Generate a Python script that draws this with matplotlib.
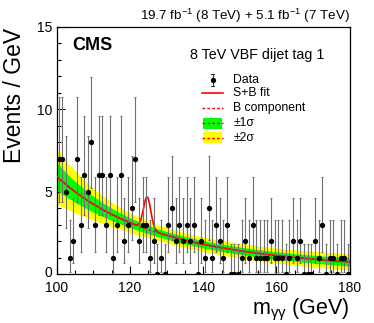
import math
import numpy as np
import matplotlib
matplotlib.use("Agg")
import matplotlib.pyplot as plt
from matplotlib.patches import Rectangle
from matplotlib.ticker import MultipleLocator
from matplotlib.transforms import ScaledTranslation

plt.rcParams['font.family'] = ['Liberation Sans', 'DejaVu Sans']
plt.rcParams['mathtext.fontset'] = 'custom'
plt.rcParams['mathtext.rm'] = 'Liberation Sans'
plt.rcParams['mathtext.it'] = 'Liberation Sans:italic'

# ---- data (1 GeV bins, 100-180 GeV) ----
bin_low_edge = 100.0
bin_width = 1.0
counts = [7, 7, 5, 1, 2, 7, 3, 6, 5, 8, 3, 6, 6, 3, 6, 1,
          3, 6, 2, 3, 4, 7, 2, 3, 3, 1, 2, 0, 1, 0, 3, 4,
          2, 3, 2, 3, 2, 3, 0, 2, 1, 4, 1, 3, 2, 1, 3, 0,
          0, 0, 1, 2, 1, 3, 1, 1, 1, 1, 2, 1, 1, 1, 0, 1,
          2, 1, 2, 0, 0, 0, 2, 1, 3, 0, 1, 1, 0, 1, 1, 0]

# ---- fit model parameters ----
bkg_norm = 5.95        # B at 100 GeV
bkg_power = 3.5        # power-law slope
sig_mass = 124.7
sig_sigma = 1.0
sig_amp = 1.95
band1_min = 0.22       # 1 sigma half-width near 140 GeV
band1_low = 0.62       # extra width towards 100 GeV
band1_high = 0.03      # extra width towards 180 GeV
band_pivot = 140.0

x_ticks = [100, 120, 140, 160, 180]
y_ticks = [0, 5, 10, 15]


def pois_cdf(n, mu):
    s, term = 0.0, math.exp(-mu)
    for k in range(n + 1):
        if k > 0:
            term *= mu / k
        s += term
    return s


def solve(f, target, lo, hi):
    for _ in range(80):
        mid = 0.5 * (lo + hi)
        if f(mid) > target:
            lo = mid
        else:
            hi = mid
    return 0.5 * (lo + hi)


a2 = 0.158655
n_arr = np.array(counts)
centers = bin_low_edge + bin_width * (np.arange(len(counts)) + 0.5)
err_lo, err_hi = [], []
for n in counts:
    up = solve(lambda m: pois_cdf(n, m), a2, 0.0, 40.0)
    if n > 0:
        low = solve(lambda m: pois_cdf(n - 1, m), 1 - a2, 0.0, 40.0)
    else:
        low = 0.0
    err_lo.append(n - low)
    err_hi.append(up - n)

mm = np.linspace(100, 180, 801)
bkg = bkg_norm * (mm / 100.0) ** (-bkg_power)
sig = sig_amp * np.exp(-0.5 * ((mm - sig_mass) / sig_sigma) ** 2)
t = (mm - band_pivot) / 40.0
band1 = np.where(t < 0, band1_min + band1_low * (-t) ** 3, band1_min + band1_high * t ** 2)
band2 = 2.0 * band1

fig = plt.figure(figsize=(3.74, 3.23), dpi=100)
ax = fig.add_axes([0.1516, 0.1502, 0.7834, 0.7663])

ax.fill_between(mm, bkg - band2, bkg + band2, color='#ffff00', lw=0, zorder=1)
ax.fill_between(mm, bkg - band1, bkg + band1, color='#00ff00', lw=0, zorder=2)
ax.plot(mm, bkg, color='red', lw=1.0, ls=(0, (2, 1.5)), zorder=3)
ax.plot(mm, bkg + sig, color='red', lw=1.2, zorder=4)

ax.errorbar(centers, n_arr, yerr=[err_lo, err_hi], fmt='o', color='black',
            ecolor='#707070', elinewidth=0.8, capsize=1.0, capthick=0.8,
            markersize=2.8, zorder=5)

ax.set_xlim(100, 180)
ax.set_ylim(0, 15)
ax.set_xticks(x_ticks)
ax.set_yticks(y_ticks)
ax.xaxis.set_minor_locator(MultipleLocator(5))
ax.yaxis.set_minor_locator(MultipleLocator(1))
ax.tick_params(which='both', direction='in', top=False, right=False,
               labelsize=10, width=0.8)
ax.tick_params(which='major', length=6)
ax.tick_params(which='minor', length=3)
ax.tick_params(axis='x', pad=4.5)
ax.tick_params(axis='y', pad=3)
for s in ax.spines.values():
    s.set_linewidth(0.9)

# nudge the "0" label slightly upward so it does not touch "100"
zero_lab = ax.get_yticklabels()[0]
zero_lab.set_transform(zero_lab.get_transform() + ScaledTranslation(0, 2.5 / 72, fig.dpi_scale_trans))

# texts
ax.text(0.052, 0.927, 'CMS', transform=ax.transAxes, fontsize=13,
        fontweight='bold', ha='left', va='center')
ax.text(0.455, 0.887, '8 TeV VBF dijet tag 1', transform=ax.transAxes,
        fontsize=10.3, ha='left', va='center')
fig.text(349.5 / 374, 1 - 16 / 323,
         r'19.7 fb$^{-1}$ (8 TeV) + 5.1 fb$^{-1}$ (7 TeV)',
         fontsize=9.6, ha='right', va='center')
fig.text(15 / 374, 1 - 28 / 323, 'Events / GeV', rotation=90,
         fontsize=16.5, ha='center', va='top')
fig.text(349.5 / 374, 1 - 314 / 323, r'm$_{\mathregular{γγ}}$ (GeV)',
         fontsize=15.5, ha='right', va='baseline')

# legend (drawn manually)
tr = ax.transAxes
xs0, xs1, xc = 0.495, 0.568, 0.532
xt = 0.603
rows = [0.786, 0.732, 0.671, 0.611, 0.553]
labels = ['Data', 'S+B fit', 'B component', '±1σ', '±2σ']
fs_leg = 8.8
# Data
y = rows[0]
ax.plot([xc, xc], [y - 0.024, y + 0.024], transform=tr, color='#333333', lw=0.8)
ax.plot([xc - 0.004, xc + 0.004], [y + 0.024, y + 0.024], transform=tr, color='#333333', lw=0.8)
ax.plot([xc - 0.004, xc + 0.004], [y - 0.024, y - 0.024], transform=tr, color='#333333', lw=0.8)
ax.plot([xc], [y], 'o', transform=tr, color='black', markersize=2.8)
# S+B
ax.plot([xs0, xs1], [rows[1]] * 2, transform=tr, color='red', lw=1.2)
# B component
ax.plot([xs0, xs1], [rows[2]] * 2, transform=tr, color='red', lw=1.0, ls=(0, (2, 1.5)))
# bands
for yy, col in [(rows[3], '#00ff00'), (rows[4], '#ffff00')]:
    ax.add_patch(Rectangle((0.499, yy - 0.022), 0.065, 0.044, transform=tr,
                           facecolor=col, edgecolor='none'))
    ax.plot([xs0, xs1], [yy, yy], transform=tr, color='red', lw=1.0, ls=(0, (2, 1.5)))
for yy, lab in zip(rows, labels):
    ax.text(xt, yy, lab, transform=tr, fontsize=fs_leg, ha='left', va='center')

fig.savefig('out.png', dpi=100)
